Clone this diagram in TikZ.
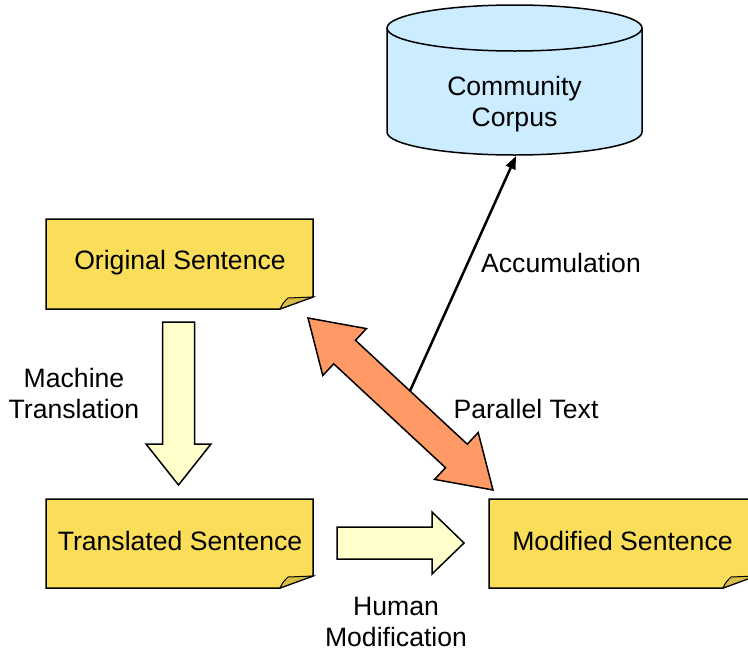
\documentclass[tikz,border=0pt]{standalone}
\usepackage{fontspec}
\setmainfont{Liberation Sans}
\usetikzlibrary{arrows.meta,calc}

\definecolor{notefill}{HTML}{FADE5A}
\definecolor{foldfill}{HTML}{D9BC48}
\definecolor{corpusfill}{HTML}{CCECFF}
\definecolor{flowfill}{HTML}{FFFFCC}
\definecolor{linkfill}{HTML}{FF9966}

% sticky note with a curled bottom-right corner: left, top, right, bottom
\newcommand\stickynote[4]{%
  \path[outline, fill=notefill] (#1,#2) -- (#3,#2) -- (#3,#4-12)
        .. controls (#3-14,#4-7) .. (#3-33,#4) -- (#1,#4) -- cycle;
  \path[outline, fill=foldfill, line width=1pt] (#3-33,#4)
        .. controls (#3-30,#4-6) .. (#3-25,#4-11) -- (#3,#4-12)
        .. controls (#3-14,#4-7) .. (#3-33,#4) -- cycle;
}

\begin{document}
\begin{tikzpicture}[x=1pt, y=-1pt,
  every node/.style={font=\fontsize{26.6}{31}\selectfont, align=center, inner sep=0pt},
  outline/.style={draw=black, line width=1.5pt, line join=miter},
  flowarrow/.style={outline, fill=flowfill},
  linkarrow/.style={outline, fill=linkfill},
  linkline/.style={draw=black, line width=2.5pt, -{Triangle[length=13pt,width=10pt]}}]

\useasboundingbox (0,0) rectangle (748,651);

% corpus cylinder
\coordinate (corpusbottom) at (516,156);
\fill[corpusfill] (387,28) rectangle (642,132);
\fill[corpusfill] (514.5,132) ellipse [x radius=127.5, y radius=23];
\draw[outline] (387,28) -- (387,132)
  .. controls (387,144.7) and (444.1,155) .. (514.5,155)
  .. controls (584.9,155) and (642,144.7) .. (642,132) -- (642,28);
\draw[outline, fill=corpusfill] (514.5,28) ellipse [x radius=127.5, y radius=23];
\node (corpus) at (514.5,104) {Community\\Corpus};

% sticky notes
\stickynote{46}{219}{313}{309}
\node (orig) at (180,263) {Original Sentence};
\stickynote{46}{499}{313}{588}
\node (trans) at (180,541) {Translated Sentence};
\stickynote{489}{499}{756}{588}
\node (mod) at (622.5,541) {Modified Sentence};

% machine translation: original -> translated
\draw[flowarrow] (162.5,322) -- (194.5,322) -- (194.5,444) -- (211,444)
  -- (178.5,485) -- (146,444) -- (162.5,444) -- cycle;
\node (mt) at (74,393) {Machine\\Translation};

% human modification: translated -> modified
\draw[flowarrow] (337,527) -- (432,527) -- (432,512) -- (464,543)
  -- (432,574) -- (432,559) -- (337,559) -- cycle;
\node (hm) at (396,622) {Human\\Modification};

% accumulation into the corpus
\coordinate (accstart) at (405,402);
\draw[linkline] (accstart) -- (corpusbottom);
\node (acc) at (561,263) {Accumulation};

% parallel text link between original and modified
\draw[linkarrow] (308,318) -- (366.4,328.6) -- (355.5,340.3) -- (467.3,444.2)
  -- (478.2,432.5) -- (493,490) -- (434.6,479.4) -- (445.5,467.7)
  -- (333.7,363.8) -- (322.8,375.5) -- cycle;
\node (pt) at (526,409) {Parallel Text};

\end{tikzpicture}
\end{document}
